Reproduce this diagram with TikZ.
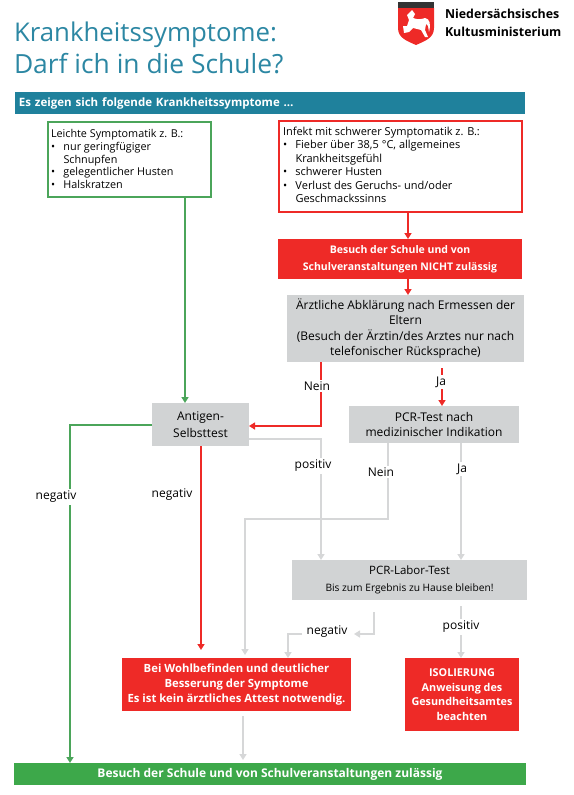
\documentclass[tikz,border=0pt]{standalone}
\usepackage{fontspec}
\setmainfont{Open Sans}
\usetikzlibrary{arrows.meta,calc}
\definecolor{teal1}{HTML}{1F819C}
\definecolor{titlec}{HTML}{2C87A3}
\definecolor{gr}{HTML}{3DA84A}
\definecolor{grd}{HTML}{4BA55A}
\definecolor{rd}{HTML}{EE2A27}
\definecolor{gy}{HTML}{D1D3D4}
\definecolor{gyl}{HTML}{D6D7D8}
\newcommand{\bul}{\makebox[12.5pt][l]{•}}
\newcommand{\ind}{\hspace*{12.5pt}}
\tikzset{
 x=1pt,y=-1pt,
 every node/.style={inner sep=0pt,outer sep=0pt,font=\fontsize{10.8}{13}\selectfont},
 greybox/.style={fill=gy,align=center,anchor=north west,font=\fontsize{12}{15.4}\selectfont},
 redbox/.style={fill=rd,text=white,align=center,anchor=north west,font=\fontsize{10.8}{14.6}\selectfont\bfseries},
 outline/.style={draw,line width=2.2pt,fill=white,anchor=north west,align=left},
 lab/.style={fill=white,inner xsep=1pt,inner ysep=2pt,font=\fontsize{12}{13}\selectfont},
 conn/.style={-{Triangle[length=6pt,width=7pt]},line width=2.3pt},
 gline/.style={conn,color=grd},
 rline/.style={conn,color=rd},
 yline/.style={conn,color=gyl},
}
\begin{document}
\begin{tikzpicture}
\useasboundingbox (0,0) rectangle (573,795);
% title
\node[anchor=base west,text=titlec,font=\fontsize{25.8}{30}\selectfont] (t1) at (14,41) {Krankheitssymptome:};
\node[anchor=base west,text=titlec,font=\fontsize{26.4}{30}\selectfont] (t2) at (14,73) {Darf ich in die Schule?};
% logo
\path[fill=black!80] (398,2) rectangle (434,8);
\path[fill=rd] (398,8) -- (434,8) -- (434,28) .. controls (434,38) and (425,41) .. (416,45) .. controls (407,41) and (398,38) .. (398,28) -- cycle;
\path[fill=white] (407,15) -- (412,10) -- (415,14) -- (413,18) .. controls (418,20) and (422,19) .. (425,18) .. controls (430,19) and (431,24) .. (429,32) -- (428,26) -- (426,24) -- (425,30) -- (428,37) -- (425,37) -- (421,30) -- (413,28) -- (409,32) -- (404,33) -- (403,26) -- (407,26) -- (409,20) -- cycle;
\node[anchor=base west,font=\fontsize{12.4}{13}\selectfont\bfseries] (l1) at (445,19) {Niedersächsisches};
\node[anchor=base west,font=\fontsize{12.4}{13}\selectfont\bfseries] (l2) at (445,36) {Kultusministerium};
% boxes
\node[fill=teal1,anchor=north west,minimum width=510pt,minimum height=22pt,text width=502pt,inner xsep=4pt,align=left,text=white,font=\fontsize{11.5}{13}\selectfont\bfseries] (head) at (15,92) {Es zeigen sich folgende Krankheitssymptome \dots};
\node[outline,draw=grd,minimum width=163pt,minimum height=75pt] (leicht) at (48,122) {};
\node[anchor=north west,align=left,font=\fontsize{10.8}{12.9}\selectfont] (leichtt) at (51,129) {Leichte Symptomatik z. B.:\\\bul nur geringfügiger\\\ind Schnupfen\\\bul gelegentlicher Husten\\\bul Halskratzen};
\node[outline,draw=rd,minimum width=243pt,minimum height=91pt] (schwer) at (279,121) {};
\node[anchor=north west,align=left,font=\fontsize{11}{13.5}\selectfont] (schwert) at (283,127) {Infekt mit schwerer Symptomatik z. B.:\\\bul Fieber über 38,5 °C, allgemeines\\\ind Krankheitsgefühl\\\bul schwerer Husten\\\bul Verlust des Geruchs- und/oder\\\ind Geschmackssinns};
\node[redbox,minimum width=244pt,minimum height=40pt,font=\fontsize{10.5}{17}\selectfont\bfseries] (nicht) at (278,239) {Besuch der Schule und von\\Schulveranstaltungen NICHT zulässig};
\node[greybox,minimum width=237pt,minimum height=67pt] (arzt) at (287,295) {Ärztliche Abklärung nach Ermessen der\\Eltern\\(Besuch der Ärztin/des Arztes nur nach\\telefonischer Rücksprache)};
\node[greybox,minimum width=97pt,minimum height=43pt,font=\fontsize{12}{16.5}\selectfont] (anti) at (152,403) {Antigen-\\Selbsttest};
\node[greybox,minimum width=170pt,minimum height=37pt] (pcr) at (349,406) {PCR-Test nach\\medizinischer Indikation};
\node[greybox,minimum width=235pt,minimum height=40pt,font=\fontsize{11.5}{17.5}\selectfont] (labor) at (292,560) {PCR-Labor-Test\\{\fontsize{10.2}{17.5}\selectfont Bis zum Ergebnis zu Hause bleiben!}};
\node[redbox,minimum width=229pt,minimum height=53pt,font=\fontsize{11.3}{15}\selectfont\bfseries] (wohl) at (122,658) {Bei Wohlbefinden und deutlicher\\Besserung der Symptome\\Es ist kein ärztliches Attest notwendig.};
\node[redbox,minimum width=114pt,minimum height=73pt] (iso) at (405,658) {ISOLIERUNG\\Anweisung des\\Gesundheitsamtes\\beachten};
\node[fill=gr,anchor=north west,minimum width=512pt,minimum height=22pt,text=white,font=\fontsize{12}{13}\selectfont\bfseries] (ok) at (14,763) {Besuch der Schule und von Schulveranstaltungen zulässig};
% connector guide coordinates
\coordinate (xg) at (185,0);
\coordinate (xs) at (408,0);
\coordinate (xn) at (321,0);
\coordinate (xj) at (442,0);
\coordinate (jtop) at (442,368);
\coordinate (yn) at (0,426);
\coordinate (ya) at (0,425);
\coordinate (xgl) at (70,0);
\coordinate (xr) at (201,0);
\coordinate (redend) at (201,650);
\coordinate (yp) at (0,439);
\coordinate (xpn) at (388,0);
\coordinate (yh) at (0,519);
\coordinate (xl) at (245,0);
\coordinate (ntop) at (245,655);
\coordinate (xpj) at (461,0);
\coordinate (neg0) at (374,612);
\coordinate (neg1) at (374,634);
\coordinate (neg2) at (354,634);
\coordinate (neg3) at (302,634);
\coordinate (neg4) at (288,634);
\coordinate (pos0) at (461,606);
\coordinate (wstart) at (243,716);
\coordinate (wend) at (243,760);
% connectors
\draw[gline] (xg |- leicht.south) -- (xg |- anti.north);
\draw[rline] (xs |- schwer.south) -- (xs |- nicht.north);
\draw[rline] (xs |- nicht.south) -- (xs |- arzt.north);
\draw[rline,line width=2.6pt] (xn |- arzt.south) -- (xn |- yn) -- (anti.east |- yn);
\draw[rline,line width=2.6pt] (jtop) -- (xj |- pcr.north);
\draw[gline] (anti.west |- ya) -- (xgl |- ya) -- (xgl |- ok.north);
\draw[rline] (xr |- anti.south) -- (redend);
\draw[yline] (anti.east |- yp) -- (xn |- yp) -- (xn |- labor.north);
\draw[yline] (xpn |- pcr.south) -- (xpn |- yh) -- (xl |- yh) -- (ntop);
\draw[yline] (xpj |- pcr.south) -- (xpj |- labor.north);
\draw[yline] (neg0) -- (neg1) -- (neg2);
\draw[yline] (neg3) -- (neg4) -- (neg4 |- wohl.north);
\draw[yline] (pos0) -- (pos0 |- iso.north);
\draw[yline] (wstart) -- (wend);
% labels
\node[lab] (ln) at (317,386) {Nein};
\node[lab] (lj) at (441,382) {Ja};
\node[lab] (lnl) at (56,497) {negativ};
\node[lab] (lnr) at (172,495) {negativ};
\node[lab] (lp) at (313,466) {positiv};
\node[lab] (lpn) at (381,472) {Nein};
\node[lab] (lpj) at (462,469) {Ja};
\node[lab] (lneg) at (327,632) {negativ};
\node[lab] (lpos) at (461,627) {positiv};
\end{tikzpicture}
\end{document}
